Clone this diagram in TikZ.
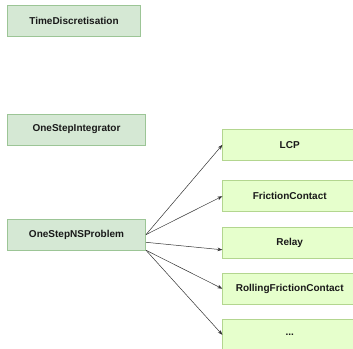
\documentclass[tikz,border=0pt]{standalone}
\usepackage{fontspec}
\setmainfont{Liberation Sans}
\usetikzlibrary{arrows.meta}
\definecolor{classfill}{HTML}{D5E8D4}
\definecolor{classline}{HTML}{9CC596}
\definecolor{probfill}{HTML}{E6FFCC}
\definecolor{probline}{HTML}{B3D68F}
\definecolor{linkcol}{HTML}{333333}
\tikzset{
  box/.style={rectangle, draw, line width=0.6pt, inner sep=0pt,
    font=\fontsize{10}{12}\selectfont\bfseries, text=black!90},
  classbox/.style={box, fill=classfill, draw=classline},
  probbox/.style={box, fill=probfill, draw=probline, minimum width=134pt, minimum height=31pt},
  link/.style={draw=linkcol, line width=0.5pt, -{Stealth[length=5pt,width=3.6pt]}}
}
\begin{document}
\begin{tikzpicture}[x=1pt,y=-1pt]
\useasboundingbox (0,0) rectangle (353,348);
\clip (0,0) rectangle (353,348);
% class boxes on the left
\node[classbox, minimum width=133.4pt, minimum height=31pt] (td) at (74,21.2) {TimeDiscretisation};
\node[classbox, minimum width=138.4pt, minimum height=31pt] (osi) at (76.5,129.5) {OneStepIntegrator};
\node[classbox, minimum width=138.4pt, minimum height=30.7pt] (osnsp) at (76.5,234.6) {OneStepNSProblem};
% problem formulations on the right
\node[probbox] (lcp) at (289.7,144.8) {LCP};
\node[probbox] (fc) at (289.7,196.2) {FrictionContact};
\node[probbox] (relay) at (289.7,242.8) {Relay};
\node[probbox] (rfc) at (289.7,288.7) {RollingFrictionContact};
\node[probbox] (etc) at (289.7,334.8) {...};
% links from the one-step problem
\draw[link] (osnsp.east) -- (lcp.west);
\draw[link] (osnsp.east) -- (fc.west);
\draw[link] ([yshift=-7.7pt]osnsp.east) -- ([yshift=-7pt]relay.west);
\draw[link] (osnsp.south east) -- (rfc.west);
\draw[link] (osnsp.south east) -- (etc.west);
\end{tikzpicture}
\end{document}
